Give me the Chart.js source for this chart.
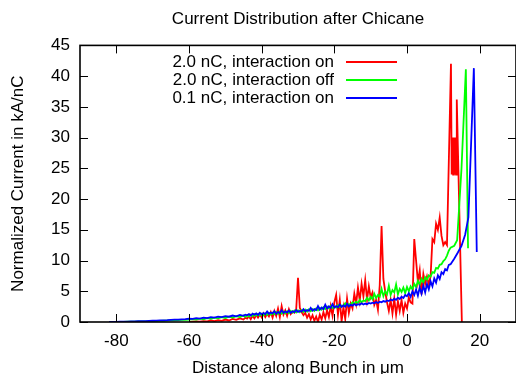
<!DOCTYPE html>
<html>
<head>
<meta charset="utf-8">
<script src="https://cdn.jsdelivr.net/npm/chart.js@4.4.1/dist/chart.umd.min.js"></script>
<style>
  html, body { margin: 0; padding: 0; background: #fff; }
</style>
</head>
<body>
<canvas id="myChart" width="516" height="374"></canvas>
<script>
"use strict";

const seriesNames = ["2.0 nC, interaction on", "2.0 nC, interaction off", "0.1 nC, interaction on"];
const seriesColors = ["#ff0000", "#00ff00", "#0000ff"];

const xTicks = [-80, -60, -40, -20, 0, 20];
const yTicks = [0, 5, 10, 15, 20, 25, 30, 35, 40, 45];

// 2.0 nC, interaction on
const redX = [-60, -59, -58, -57, -56, -55, -54, -53, -52, -51, -50, -49, -48, -47, -46,
  -45, -44.5, -44, -43.5, -43, -42.5, -42, -41.5, -41, -40.5,
  -40, -39.5, -39, -38.5, -38, -37.5, -37, -36.5, -36, -35.5,
  -35, -34.5, -34, -33.5, -33, -32.5, -32, -31.5, -31, -30.5,
  -30, -29.5, -29, -28.5, -28, -27.5, -27, -26.5, -26, -25.5,
  -25, -24.5, -24, -23.5, -23, -22.5, -22, -21.5, -21, -20.5,
  -20, -19.5, -19, -18.5, -18, -17.5, -17, -16.5, -16, -15.5,
  -15, -14.5, -14, -13.5, -13, -12.5, -12, -11.5, -11, -10.5,
  -10, -9.5, -9, -8.5, -8, -7.5, -7, -6.5, -6, -5.5,
  -5, -4.5, -4, -3.5, -3, -2.5, -2, -1.5, -1, -0.5,
  0, 0.5, 1, 1.5, 2, 2.5, 3, 3.5, 4, 4.5,
  5, 5.5, 6, 6.5, 7, 7.5, 8, 8.5, 9, 9.5,
  10, 10.5, 11,
  12.1, 12.3, 12.5, 12.7, 12.9, 13.1, 13.3, 13.5, 13.7, 15.1];
const redY = [0.00, 0.05, 0.10, 0.05, 0.15, 0.10, 0.25, 0.15, 0.30, 0.20, 0.40, 0.25, 0.50, 0.35, 0.60,
  0.40, 0.70, 0.55, 0.90, 0.45, 1.00, 0.60, 1.10, 0.70, 1.20,
  0.75, 1.40, 0.80, 1.30, 0.90, 1.60, 0.70, 1.80, 1.00, 2.20,
  0.80, 2.60, 1.20, 1.90, 1.00, 2.10, 1.30, 1.70, 1.50, 2.00,
  7.20, 2.30, 1.60, 1.10, 1.50, 0.70, 1.30, 0.40, 1.10, 0.20,
  0.90, 0.00, 1.20, 0.40, 1.60, 0.60, 1.90, 0.80, 2.60, 1.00,
  3.20, 4.40, 1.20, 3.60, 0.10, 2.40, 0.50, 3.80, 1.50, 3.00,
  2.20, 4.60, 3.00, 5.60, 3.50, 6.20, 4.20, 6.80, 3.60, 5.80,
  4.00, 4.80, 2.80, 3.60, 2.00, 6.00, 15.60, 7.00, 5.00, 3.20,
  1.80, 3.60, 1.40, 3.80, 1.20, 3.40, 1.80, 3.60, 1.50, 3.00,
  2.20, 4.00, 3.20, 3.00, 13.50, 10.00, 6.50, 8.40, 4.50, 7.80,
  6.20, 7.40, 6.00, 7.50, 13.50, 13.00, 16.00, 15.00, 17.00, 14.00,
  12.50, 13.00, 12.50,
  42.00, 24.00, 30.00, 24.00, 30.00, 24.00, 30.00, 24.00, 36.20, 0.00];

// 2.0 nC, interaction off
const greenX = [-80, -79, -78, -77, -76, -75, -74, -73, -72, -71,
  -70, -69, -68, -67, -66, -65, -64, -63, -62, -61,
  -60, -59, -58, -57, -56, -55, -54, -53, -52, -51,
  -50, -49, -48, -47, -46,
  -45, -44.5, -44, -43.5, -43, -42.5, -42, -41.5, -41, -40.5,
  -40, -39.5, -39, -38.5, -38, -37.5, -37, -36.5, -36, -35.5,
  -35, -34.5, -34, -33.5, -33, -32.5, -32, -31.5, -31, -30.5,
  -30, -29.5, -29, -28.5, -28, -27.5, -27, -26.5, -26, -25.5,
  -25, -24.5, -24, -23.5, -23, -22.5, -22, -21.5, -21, -20.5,
  -20, -19.5, -19, -18.5, -18, -17.5, -17, -16.5, -16, -15.5,
  -15, -14.5, -14, -13.5, -13, -12.5, -12, -11.5, -11, -10.5,
  -10, -9.5, -9, -8.5, -8, -7.5, -7, -6.5, -6, -5.5,
  -5, -4.5, -4, -3.5, -3, -2.5, -2, -1.5, -1, -0.5,
  0, 0.5, 1, 1.5, 2, 2.5, 3, 3.5, 4, 4.5,
  5, 5.5, 6, 6.5, 7, 7.5, 8, 8.5, 9, 9.5,
  10, 10.5, 11, 11.5, 12,
  13, 13.8, 15, 16.2, 16.8];
const greenY = [0.00, 0.02, 0.03, 0.04, 0.05, 0.06, 0.08, 0.09, 0.10, 0.12,
  0.14, 0.16, 0.18, 0.20, 0.22, 0.25, 0.28, 0.30, 0.33, 0.36,
  0.40, 0.48, 0.40, 0.55, 0.45, 0.62, 0.50, 0.70, 0.58, 0.78,
  0.65, 0.88, 0.72, 0.95, 0.80,
  1.05, 0.85, 1.10, 0.90, 1.20, 0.95, 1.25, 1.00, 1.30, 1.05,
  1.35, 1.10, 1.40, 1.15, 1.45, 1.20, 1.50, 1.25, 1.60, 1.30,
  1.65, 1.35, 1.70, 1.40, 1.75, 1.45, 1.80, 1.50, 1.85, 1.55,
  1.90, 1.60, 1.95, 1.65, 2.00, 1.70, 2.05, 1.75, 2.10, 1.80,
  2.20, 1.90, 2.30, 2.00, 2.40, 2.10, 2.50, 2.20, 2.60, 2.25,
  2.50, 2.35, 2.75, 2.45, 2.70, 2.60, 3.05, 2.70, 2.90, 2.85,
  3.20, 2.95, 3.30, 3.10, 3.60, 3.20, 3.50, 3.40, 3.95, 3.50,
  4.10, 3.70, 4.60, 3.90, 4.40, 4.10, 5.40, 4.20, 5.00, 4.50,
  5.90, 4.40, 5.20, 4.80, 6.10, 4.50, 5.40, 4.90, 5.60, 4.70,
  5.70, 5.00, 5.80, 5.30, 6.20, 5.70, 6.70, 6.10, 7.00, 6.40,
  7.30, 6.90, 7.60, 7.40, 8.10, 8.00, 8.80, 8.70, 9.30, 9.40,
  9.90, 10.20, 10.80, 11.60, 12.10,
  12.40, 13.30, 25.00, 41.10, 12.00];

// 0.1 nC, interaction on
const blueX = [-82, -81, -80, -79, -78, -77, -76, -75, -74, -73,
  -72, -71, -70, -69, -68, -67, -66, -65, -64, -63,
  -62, -61, -60, -59, -58, -57, -56, -55, -54, -53,
  -52, -51, -50, -49, -48, -47, -46,
  -45, -44.5, -44, -43.5, -43, -42.5, -42, -41.5, -41, -40.5,
  -40, -39.5, -39, -38.5, -38, -37.5, -37, -36.5, -36, -35.5,
  -35, -34.5, -34, -33.5, -33, -32.5, -32, -31.5, -31, -30.5,
  -30, -29.5, -29, -28.5, -28, -27.5, -27, -26.5, -26, -25.5,
  -25, -24.5, -24, -23.5, -23, -22.5, -22, -21.5, -21, -20.5,
  -20, -19.5, -19, -18.5, -18, -17.5, -17, -16.5, -16, -15.5,
  -15, -14.5, -14, -13.5, -13, -12.5, -12, -11.5, -11, -10.5,
  -10, -9.5, -9, -8.5, -8, -7.5, -7, -6.5, -6, -5.5,
  -5, -4.5, -4, -3.5, -3, -2.5, -2, -1.5, -1, -0.5,
  0, 0.5, 1, 1.5, 2, 2.5, 3, 3.5, 4, 4.5,
  5, 5.5, 6, 6.5, 7, 7.5, 8, 8.5, 9, 9.5,
  10, 10.5, 11, 11.5, 12,
  13, 14, 15, 16, 16.9, 18.4, 19.2];
const blueY = [0.00, 0.02, 0.03, 0.04, 0.05, 0.07, 0.08, 0.10, 0.12, 0.13,
  0.15, 0.18, 0.20, 0.22, 0.25, 0.28, 0.30, 0.34, 0.37, 0.40,
  0.44, 0.47, 0.55, 0.50, 0.62, 0.55, 0.72, 0.62, 0.78, 0.70,
  0.88, 0.80, 0.95, 0.86, 1.05, 0.92, 1.15,
  1.00, 1.20, 1.10, 1.30, 1.05, 1.35, 1.20, 1.40, 1.15, 1.50,
  1.25, 1.45, 1.30, 1.70, 1.35, 1.55, 1.40, 1.75, 1.35, 1.60,
  1.45, 1.90, 1.50, 1.70, 1.55, 1.85, 1.50, 1.75, 1.60, 1.95,
  1.65, 1.80, 1.70, 2.10, 1.75, 1.95, 1.80, 2.30, 1.85, 2.10,
  1.95, 2.60, 2.00, 2.35, 2.10, 2.80, 2.20, 2.55, 2.30, 2.90,
  2.35, 2.60, 2.40, 2.85, 2.45, 2.70, 2.50, 2.95, 2.55, 2.80,
  2.65, 2.95, 2.70, 2.90, 2.80, 3.05, 2.85, 3.00, 2.90, 3.10,
  3.00, 3.15, 3.05, 3.25, 3.10, 3.30, 3.20, 3.40, 3.30, 3.50,
  3.40, 3.65, 3.50, 3.80, 3.60, 3.95, 3.75, 4.10, 3.90, 4.40,
  4.20, 4.70, 4.10, 5.00, 4.40, 5.30, 4.30, 5.60, 4.60, 5.90,
  4.80, 6.20, 5.30, 6.60, 5.80, 7.10, 6.40, 7.60, 7.00, 8.10,
  7.80, 8.60, 8.40, 9.30, 9.40,
  10.30, 11.30, 12.40, 14.20, 17.00, 41.30, 11.40];

const FONT = "'Liberation Sans', Arial, Helvetica, sans-serif";

function points(xs, ys) {
  return xs.map((x, i) => ({ x: x, y: ys[i] }));
}

// gnuplot style box with inward ticks, plus the legend
const framePlugin = {
  id: "frame",
  afterDatasetsDraw(chart) {
    const ctx = chart.ctx;
    const a = chart.chartArea;
    const sx = chart.scales.x;
    const sy = chart.scales.y;
    ctx.save();
    ctx.strokeStyle = "#000";
    ctx.lineWidth = 1;
    ctx.beginPath();
    xTicks.forEach(v => {
      const px = Math.round(sx.getPixelForValue(v)) + 0.5;
      ctx.moveTo(px, a.bottom); ctx.lineTo(px, a.bottom - 8);
      ctx.moveTo(px, a.top); ctx.lineTo(px, a.top + 8);
    });
    yTicks.forEach(v => {
      const py = Math.round(sy.getPixelForValue(v)) + 0.5;
      ctx.moveTo(a.left, py); ctx.lineTo(a.left + 8, py);
      ctx.moveTo(a.right, py); ctx.lineTo(a.right - 8, py);
    });
    ctx.stroke();
    ctx.lineWidth = 1.6;
    ctx.strokeRect(a.left, a.top, a.right - a.left, a.bottom - a.top);

    ctx.font = "17px " + FONT;
    ctx.fillStyle = "#000";
    ctx.textAlign = "right";
    ctx.textBaseline = "middle";
    seriesNames.forEach((name, i) => {
      const y = 62 + i * 18;
      ctx.fillText(name, 334, y);
      ctx.strokeStyle = seriesColors[i];
      ctx.lineWidth = 2;
      ctx.beginPath();
      ctx.moveTo(346, y);
      ctx.lineTo(397, y);
      ctx.stroke();
    });
    ctx.restore();
  }
};

function showChart() {
  const ctx = document.getElementById("myChart").getContext("2d");
  const allX = [redX, greenX, blueX];
  const allY = [redY, greenY, blueY];
  const datasets = seriesNames.map((name, i) => ({
    label: name,
    data: points(allX[i], allY[i]),
    borderColor: seriesColors[i],
    borderWidth: 1.8,
    pointRadius: 0,
    tension: 0,
    fill: false,
    order: 2 - i
  }));

  new Chart(ctx, {
    type: "line",
    data: { datasets: datasets },
    plugins: [framePlugin],
    options: {
      responsive: false,
      animation: false,
      devicePixelRatio: 1,
      layout: { padding: { left: 0, right: 0, top: 0, bottom: 0 } },
      plugins: {
        legend: { display: false },
        tooltip: { enabled: false },
        title: {
          display: true,
          fullSize: false,
          text: "Current Distribution after Chicane",
          color: "#000",
          font: { family: FONT, size: 17, weight: "normal" },
          padding: { top: 9, bottom: 16 }
        }
      },
      scales: {
        x: {
          type: "linear",
          min: -90,
          max: 30,
          afterBuildTicks: s => { s.ticks = xTicks.map(v => ({ value: v })); },
          afterFit: s => { s.height = 52; },
          grid: { display: false, drawTicks: false },
          border: { display: false },
          ticks: { color: "#000", font: { family: FONT, size: 17 }, padding: 9, maxRotation: 0 },
          title: {
            display: true,
            text: "Distance along Bunch in \u03bcm",
            color: "#000",
            font: { family: FONT, size: 17 },
            padding: { top: 0, bottom: -5 }
          }
        },
        y: {
          min: 0,
          max: 45,
          afterBuildTicks: s => { s.ticks = yTicks.map(v => ({ value: v })); },
          afterFit: s => { s.width = 80; },
          grid: { display: false, drawTicks: false },
          border: { display: false },
          ticks: { color: "#000", font: { family: FONT, size: 17 }, padding: 10 },
          title: {
            display: true,
            text: "Normalized Current in kA/nC",
            color: "#000",
            font: { family: FONT, size: 17 },
            padding: { top: 8, bottom: 0 }
          }
        }
      }
    }
  });
}

showChart();
</script>
</body>
</html>
